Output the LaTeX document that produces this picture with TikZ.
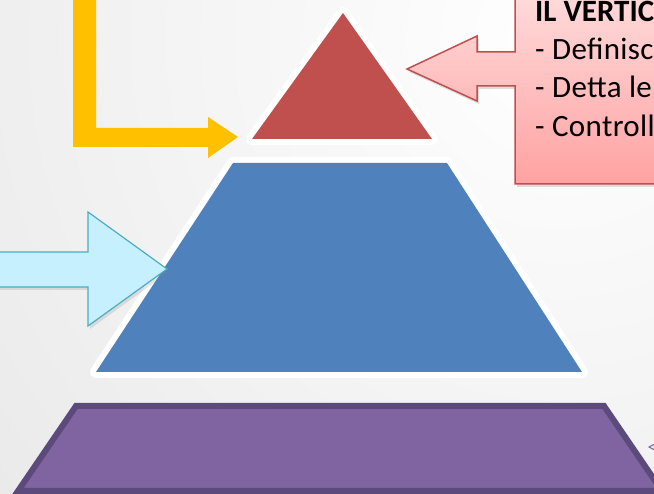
\documentclass[tikz,border=0pt]{standalone}
\usepackage{fontspec}
\setmainfont{Carlito}
\newfontfamily\calloutfont[LetterSpace=1.2]{Carlito}
\usetikzlibrary{shadows}

\definecolor{topred}{HTML}{C0504D}
\definecolor{midblue}{HTML}{4F81BD}
\definecolor{basepurple}{HTML}{8064A2}
\definecolor{purpleline}{HTML}{5C4A7D}
\definecolor{gold}{HTML}{FFC000}
\definecolor{skyfill}{HTML}{C6F0FE}
\definecolor{skyline}{HTML}{4BACC6}
\definecolor{pinktop}{HTML}{FFDADA}
\definecolor{pinkbot}{HTML}{FFA2A2}

\tikzset{
  tier/.style={draw=white,fill=white,line width=12pt,line join=round,
    drop shadow={opacity=.25,shadow xshift=1pt,shadow yshift=-3pt}},
  callout/.style={draw=topred,line width=1.5pt,top color=pinktop,bottom color=pinkbot,
    drop shadow={opacity=.25,shadow xshift=2pt,shadow yshift=-3pt}},
  linetext/.style={anchor=base west,inner sep=0pt,font=\calloutfont\fontsize{31}{38}\selectfont}
}

\begin{document}
\begin{tikzpicture}[x=1pt,y=-1pt]
\useasboundingbox (0,0) rectangle (654,494);
\clip (0,0) rectangle (654,494);
\shade[inner color=white,outer color=black!16] (560,40) circle (1400);

% pyramid corners
\coordinate (apex) at (343,13);
\coordinate (redL) at (252,139);
\coordinate (redR) at (432,139);
\coordinate (blueTL) at (233,163);
\coordinate (blueTR) at (447,163);
\coordinate (blueBL) at (96,372);
\coordinate (blueBR) at (582,372);

% top tier
\path[tier] (apex) -- (redL) -- (redR) -- cycle;
\fill[topred] (apex) -- (redL) -- (redR) -- cycle;

% middle tier
\path[tier] (blueTL) -- (blueTR) -- (blueBR) -- (blueBL) -- cycle;
\fill[midblue] (blueTL) -- (blueTR) -- (blueBR) -- (blueBL) -- cycle;

% base tier
\draw[purpleline,fill=basepurple,line width=6pt] (76,406) -- (604,406) -- (662,491) -- (18,491) -- cycle;
\draw[basepurple,fill=white!85!basepurple,line width=1pt] (660,441) -- (649,447) -- (660,453);

% gold arrow
\coordinate (redhit) at (238,137);
\fill[gold] (73,-5) -- (73,147) -- (208,147) -- (208,158) -- (redhit)
  -- (208,117) -- (208,128) -- (96,128) -- (96,-5) -- cycle;

% light blue arrow
\coordinate (bluehit) at (167,269);
\draw[skyline,fill=skyfill,line width=1.2pt,line join=miter,
  drop shadow={opacity=.2,shadow xshift=2pt,shadow yshift=-3pt}]
  (-5,252) -- (88,252) -- (88,212) -- (bluehit) -- (88,326) -- (88,287) -- (-5,287) -- cycle;

% callout
\coordinate (calltip) at (407,69);
\path[callout] (515,-5) -- (515,52) -- (477,52) -- (477,36) -- (calltip) -- (477,101)
  -- (477,86) -- (515,86) -- (515,184) -- (664,184) -- (664,-5) -- cycle;

\node[linetext,font=\bfseries\fontsize{31}{38}\selectfont] (head) at (535,22) {IL VERTIC};
\node[linetext] (first) at (535,60) {- Definisc};
\node[linetext] (second) at (535,98) {- Detta le};
\node[linetext] (third) at (535,137) {- Controll};
\end{tikzpicture}
\end{document}
